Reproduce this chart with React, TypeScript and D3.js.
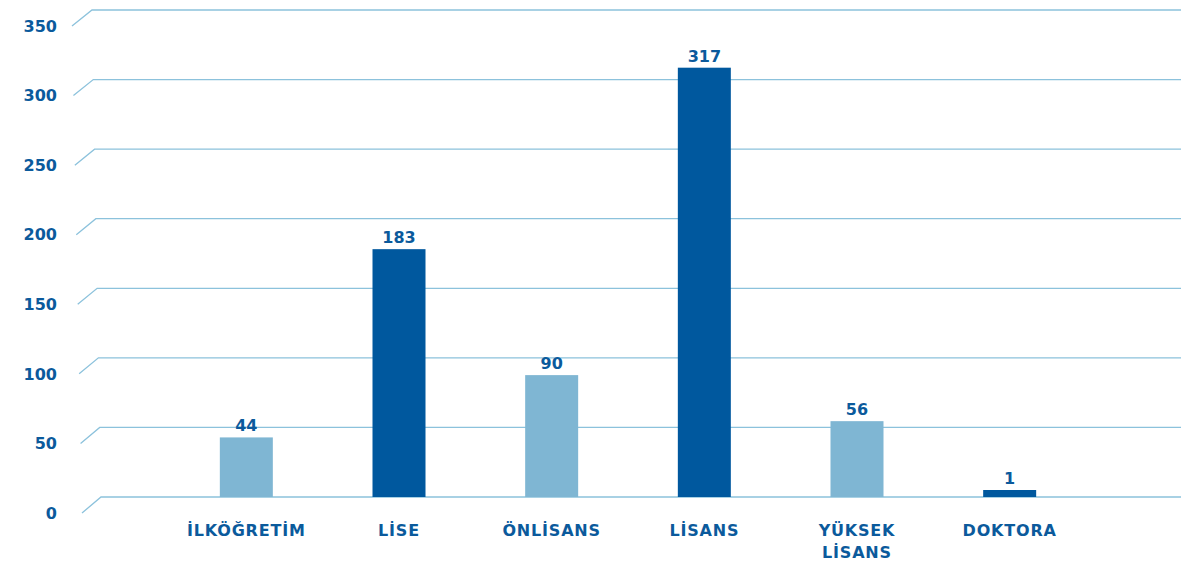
import React, { useEffect, useRef } from 'react';
import * as d3 from 'd3';

const categories: string[][] = [
  ['İLKÖĞRETİM'],
  ['LİSE'],
  ['ÖNLİSANS'],
  ['LİSANS'],
  ['YÜKSEK', 'LİSANS'],
  ['DOKTORA'],
];
const values: number[] = [44, 183, 90, 317, 56, 1];
const barTones: string[] = ['light', 'dark', 'light', 'dark', 'light', 'dark'];
const yTicks: number[] = [0, 50, 100, 150, 200, 250, 300, 350];

const W = 1181;
const H = 565;
const DARK = '#00589e';
const LIGHT = '#7fb6d3';
const GRID = '#8cc2dc';
const TEXT = '#0b5a9c';
const FONT = '"DejaVu Sans", sans-serif';

const App: React.FC = () => {
  const svgRef = useRef<SVGSVGElement>(null);

  useEffect(() => {
    if (!svgRef.current) return;
    const svg = d3.select(svgRef.current);
    svg.selectAll('*').remove();

    // back wall scale for the gridlines
    const y = d3.scaleLinear().domain([0, 350]).range([497, 10]);
    // bars stand in front of the wall, so they come out a bit shorter
    const yBar = d3.scaleLinear().domain([0, 350]).range([497, 23]);
    // the diagonal "floor" part of each gridline shifts a bit with height
    const backX = d3.scaleLinear().domain([0, 350]).range([101, 92]);
    const frontX = d3.scaleLinear().domain([0, 350]).range([82, 72]);
    const depthY = 16;

    const x = d3.scaleBand<number>()
      .domain(d3.range(categories.length))
      .range([170, 1086]);
    const barW = 53;
    const minBar = 7;

    const grid = svg.append('g').attr('fill', 'none').attr('stroke', GRID).attr('stroke-width', 1.3);
    grid.selectAll('path')
      .data(yTicks)
      .join('path')
      .attr('d', d => {
        const p = d3.path();
        p.moveTo(frontX(d), y(d) + depthY);
        p.lineTo(backX(d), y(d));
        p.lineTo(W, y(d));
        return p.toString();
      });

    svg.append('g')
      .selectAll('text')
      .data(yTicks)
      .join('text')
      .attr('x', 57)
      .attr('y', d => y(d) + depthY)
      .attr('dy', '0.36em')
      .attr('text-anchor', 'end')
      .attr('fill', TEXT)
      .style('font', `bold 16px ${FONT}`)
      .text(d => d);

    const top = (d: number) => Math.min(yBar(d), yBar(0) - minBar);

    const bars = svg.append('g');
    bars.selectAll('rect')
      .data(values)
      .join('rect')
      .attr('x', (_, i) => x(i)! + x.bandwidth() / 2 - barW / 2)
      .attr('y', d => top(d))
      .attr('width', barW)
      .attr('height', d => yBar(0) - top(d))
      .attr('fill', (_, i) => (barTones[i] === 'dark' ? DARK : LIGHT));

    bars.selectAll('text')
      .data(values)
      .join('text')
      .attr('x', (_, i) => x(i)! + x.bandwidth() / 2)
      .attr('y', d => top(d) - 6)
      .attr('text-anchor', 'middle')
      .attr('fill', TEXT)
      .style('font', `bold 16px ${FONT}`)
      .text(d => d);

    const labels = svg.append('g')
      .selectAll('text')
      .data(categories)
      .join('text')
      .attr('x', (_, i) => x(i)! + x.bandwidth() / 2)
      .attr('y', 536)
      .attr('text-anchor', 'middle')
      .attr('fill', TEXT)
      .style('font', `bold 16px ${FONT}`)
      .style('letter-spacing', '0.8px');

    labels.selectAll('tspan')
      .data(d => d)
      .join('tspan')
      .attr('x', function () {
        return (this.parentNode as SVGTextElement).getAttribute('x');
      })
      .attr('dy', (_, j) => (j === 0 ? 0 : 22))
      .text(d => d);
  }, []);

  return (
    <svg
      ref={svgRef}
      width={W}
      height={H}
      style={{ position: 'absolute', left: 0, top: 0, background: '#fff' }}
    />
  );
};

export default App;
